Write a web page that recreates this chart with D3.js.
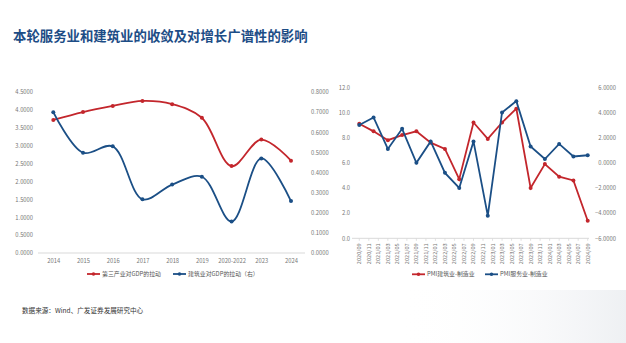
<!DOCTYPE html>
<html><head><meta charset="utf-8">
<script src="https://cdn.jsdelivr.net/npm/d3@7"></script>
<style>
html,body{margin:0;padding:0;background:#fff;}
svg{display:block;font-family:"Noto Sans CJK SC","Noto Sans",sans-serif;}
</style></head>
<body>
<svg id="c" width="626" height="343"></svg>
<script>
// ---- Left chart data ----
const yearsL = ["2014","2015","2016","2017","2018","2019","2020-2022","2023","2024"];
const tertiaryGDP = [3.72,3.94,4.11,4.25,4.16,3.78,2.43,3.17,2.58];
const constructionGDP = [0.700,0.498,0.530,0.267,0.340,0.379,0.156,0.470,0.258];
const leftTicksL = [0,0.5,1,1.5,2,2.5,3,3.5,4,4.5];
const rightTicksL = [0,0.1,0.2,0.3,0.4,0.5,0.6,0.7,0.8];
const legendL = ["第三产业对GDP的拉动","建筑业对GDP的拉动（右）"];

// ---- Right chart data ----
const monthLabelsR = ["2020/09","2020/11","2021/01","2021/03","2021/05","2021/07","2021/09","2021/11","2022/01","2022/03","2022/05","2022/07","2022/09","2022/11","2023/01","2023/03","2023/05","2023/07","2023/09","2023/11","2024/01","2024/03","2024/05","2024/07","2024/09"];
const quartersR = ["2020/09","2020/12","2021/03","2021/06","2021/09","2021/12","2022/03","2022/06","2022/09","2022/12","2023/03","2023/06","2023/09","2023/12","2024/03","2024/06","2024/09"];
const pmiConstruction = [9.1,8.5,7.8,8.2,8.5,7.6,7.1,4.7,9.2,7.9,9.2,10.3,4.0,5.9,4.9,4.6,1.4];
const pmiService = [3.0,3.6,1.1,2.7,0.0,1.7,-0.8,-2.0,1.7,-4.2,4.0,4.9,1.3,0.3,1.5,0.5,0.6];
const leftTicksR = [0,2,4,6,8,10,12];
const rightTicksR = [-6,-4,-2,0,2,4,6];
const legendR = ["PMI建筑业-制造业","PMI服务业-制造业"];

const title = "本轮服务业和建筑业的收敛及对增长广谱性的影响";
const source = "数据来源：Wind、广发证券发展研究中心";

const RED = "#c3262c", BLUE = "#1b4f86", TICK = "#777", AXIS = "#d9d9d9";
const svg = d3.select("#c");

// faint background decoration
const defs = svg.append("defs");
const g0 = defs.append("linearGradient").attr("id","bg").attr("x1",0).attr("y1",0).attr("x2",1).attr("y2",0);
g0.append("stop").attr("offset","0%").attr("stop-color","#fff").attr("stop-opacity",0);
g0.append("stop").attr("offset","100%").attr("stop-color","#eef0f3").attr("stop-opacity",1);
svg.append("rect").attr("x",400).attr("y",290).attr("width",226).attr("height",53).attr("fill","url(#bg)");

// title
svg.append("text").attr("x",13).attr("y",41).attr("font-size",13.4).attr("font-weight","bold")
  .attr("fill","#1d4d86").text(title);

// ================= Left chart =================
const xL = d3.scalePoint().domain(yearsL).range([53.3,291]);
const yL = d3.scaleLinear().domain([0,4.5]).range([253,92]);
const yL2 = d3.scaleLinear().domain([0,0.8]).range([253,92]);

function styleAxis(g){
  g.select(".domain").remove();
  g.selectAll("line").remove();
  g.selectAll("text").attr("fill",TICK).attr("font-size",5.8).attr("font-family","'Noto Sans CJK SC',sans-serif");
}

svg.append("line").attr("x1",38).attr("x2",305).attr("y1",yL(0)).attr("y2",yL(0)).attr("stroke",AXIS).attr("stroke-width",1);
svg.append("g").attr("transform","translate(35,0)")
  .call(d3.axisLeft(yL).tickValues(leftTicksL).tickFormat(d3.format(".4f")).tickSize(0).tickPadding(2)).call(styleAxis);
svg.append("g").attr("transform","translate(309,0)")
  .call(d3.axisRight(yL2).tickValues(rightTicksL).tickFormat(d3.format(".4f")).tickSize(0).tickPadding(2)).call(styleAxis);
svg.append("g").attr("transform",`translate(0,${yL(0)})`)
  .call(d3.axisBottom(xL).tickSize(0).tickPadding(6)).call(styleAxis);

const curve = d3.curveCatmullRom.alpha(0.5);
function series(data, x, y, color, cv, w){
  svg.append("path").datum(data).attr("fill","none").attr("stroke",color).attr("stroke-width",w)
    .attr("d", d3.line().x(d=>x(d[0])).y(d=>y(d[1])).curve(cv));
  svg.append("g").selectAll("circle").data(data).join("circle")
    .attr("cx",d=>x(d[0])).attr("cy",d=>y(d[1])).attr("r",2).attr("fill",color);
}
series(yearsL.map((c,i)=>[c,tertiaryGDP[i]]), xL, yL, RED, curve, 1.8);
series(yearsL.map((c,i)=>[c,constructionGDP[i]]), xL, yL2, BLUE, curve, 1.8);

function legendItem(x, y, color, label){
  svg.append("line").attr("x1",x).attr("x2",x+13).attr("y1",y).attr("y2",y).attr("stroke",color).attr("stroke-width",1.8);
  svg.append("circle").attr("cx",x+6.5).attr("cy",y).attr("r",1.8).attr("fill",color);
  svg.append("text").attr("x",x+15).attr("y",y).attr("dy","0.35em").attr("font-size",5.9).attr("fill","#555").text(label);
}
legendItem(87, 274, RED, legendL[0]);
legendItem(173, 274, BLUE, legendL[1]);

// ================= Right chart =================
const parse = s => { const [a,b] = s.split("/").map(Number); return (a-2020)*12 + (b-9); };
const xR = d3.scaleLinear().domain([parse(monthLabelsR[0]), parse(monthLabelsR[monthLabelsR.length-1])]).range([359.3,587.7]);
const yR = d3.scaleLinear().domain([0,12]).range([238.3,87.3]);
const yR2 = d3.scaleLinear().domain([-6,6]).range([238.3,87.3]);

svg.append("line").attr("x1",352).attr("x2",589).attr("y1",yR(0)).attr("y2",yR(0)).attr("stroke",AXIS).attr("stroke-width",1);
svg.append("g").attr("transform","translate(352,0)")
  .call(d3.axisLeft(yR).tickValues(leftTicksR).tickFormat(d3.format(".1f")).tickSize(0).tickPadding(2)).call(styleAxis);
const gr = svg.append("g").attr("transform","translate(592,0)")
  .call(d3.axisRight(yR2).tickValues(rightTicksR).tickFormat(d3.format(".4f")).tickSize(0).tickPadding(2)).call(styleAxis);
gr.selectAll("text").attr("text-anchor","end").attr("x",24);

const gx = svg.append("g").attr("transform",`translate(0,${yR(0)})`);
gx.selectAll("line").data(monthLabelsR).join("line")
  .attr("x1",d=>xR(parse(d))).attr("x2",d=>xR(parse(d))).attr("y1",0).attr("y2",2.5)
  .attr("stroke",AXIS).attr("stroke-width",0.8);
gx.selectAll("text").data(monthLabelsR).join("text")
  .attr("transform",d=>`translate(${xR(parse(d))},5) rotate(-90)`)
  .attr("text-anchor","end").attr("dy","0.35em").attr("font-size",5.6).attr("fill",TICK).text(d=>d);

const lin = d3.curveLinear;
series(quartersR.map((c,i)=>[parse(c),pmiConstruction[i]]), xR, yR, RED, lin, 1.8);
series(quartersR.map((c,i)=>[parse(c),pmiService[i]]), xR, yR2, BLUE, lin, 1.8);

legendItem(412, 274.3, RED, legendR[0]);
legendItem(485, 274.3, BLUE, legendR[1]);

// source
svg.append("text").attr("x",22).attr("y",311).attr("dy","0.35em").attr("font-size",6.6).attr("fill","#333").text(source);
</script>
</body></html>
